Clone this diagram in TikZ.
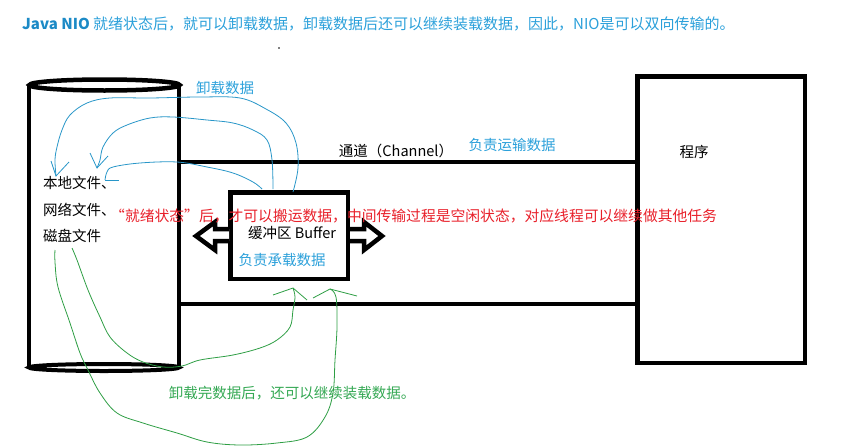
\documentclass[tikz,border=0pt]{standalone}
\usepackage{fontspec}
\setmainfont{Noto Sans CJK SC}
\usetikzlibrary{positioning}

\definecolor{niotitle}{RGB}{28,138,198}
\definecolor{nioblue}{RGB}{43,160,218}
\definecolor{penblue}{RGB}{40,150,200}
\definecolor{niored}{RGB}{232,32,42}
\definecolor{niogreen}{RGB}{52,168,83}
\definecolor{pengreen}{RGB}{46,158,68}

\tikzset{
  heavy/.style={line width=4.5pt},
  bluepen/.style={penblue, line width=0.8pt},
  greenpen/.style={pengreen, line width=0.8pt},
  txt/.style={inner sep=0pt, font=\fontsize{14.5}{17}\selectfont},
}

\begin{document}
\begin{tikzpicture}[x=1pt,y=-1pt]
\useasboundingbox (0,0) rectangle (842,447);

%% heading
\node[txt, anchor=west, nioblue, font=\fontsize{15}{18}\selectfont] (title) at (22,24)
  {{\color{niotitle}\bfseries Java NIO} 就绪状态后，就可以卸载数据，卸载数据后还可以继续装载数据，因此，NIO是可以双向传输的。};
\fill (279,48) circle[radius=0.8pt];

%% store (cylinder)
\draw[heavy] (29,85) -- (29,367);
\draw[heavy] (179,85) -- (179,367);
\draw[heavy] (104.5,85) ellipse (75 and 5.5);
\draw[line width=4pt] (104,367.5) ellipse (75 and 3.5);

%% store labels
\node[txt, anchor=west] (local) at (43,183) {本地文件、};
\node[txt, anchor=west] (net) at ([yshift=-27pt]local.west) {网络文件、};
\node[txt, anchor=west] (disk) at ([yshift=-26pt]net.west) {磁盘文件};

%% program
\node[heavy, draw, minimum width=167.5pt, minimum height=286.5pt] (prog) at (721,219.5) {};
\node[txt] (progname) at (694,152) {程序};

%% channel
\coordinate (chTop) at (181,162);
\coordinate (chBot) at (181,304);
\draw[heavy] (chTop) -- (chTop -| prog.west);
\draw[heavy] (chBot) -- (chBot -| prog.west);
\node[txt] (chname) at (396,151) {通道（Channel）};
\node[txt, nioblue] (chjob) at (512,145) {负责运输数据};

%% buffer
\node[heavy, draw, fill=white, minimum width=117.5pt, minimum height=86.5pt] (buf) at (289,235.5) {};
\node[txt] (bufname) at (292,233) {缓冲区 Buffer};
\node[txt, nioblue] (bufjob) at (282,260) {负责承载数据};

%% block arrows
\draw[heavy, line join=miter, fill=white] (229,229) -- (215,229) -- (215,222) -- (196,236) -- (215,250) -- (215,241) -- (229,241);
\draw[heavy, line join=miter, fill=white] (350,229) -- (364,229) -- (364,222) -- (382,236) -- (364,250) -- (364,241) -- (350,241);

%% note
\node[txt, anchor=west, niored, font=\fontsize{14.8}{17}\selectfont] (note) at (110,216)
  {“就绪状态”后，才可以搬运数据，中间传输过程是空闲状态，对应线程可以继续做其他任务};

%% unloading (blue)
\node[txt, nioblue] (unload) at (225,88) {卸载数据};
\coordinate (upA) at (293,192);
\coordinate (upB) at (273,189);
\coordinate (upC) at (262,189);
\coordinate (tipA) at (56,176);
\coordinate (tipB) at (97,168);
\coordinate (tipC) at (105,180);
\draw[bluepen] plot[smooth, tension=0.6] coordinates {(upA) (298,168) (296,143) (286,123) (266,109) (240,98) (200,97) (150,98) (110,98) (87,103) (70,115) (62,130) (57,147) (55,160) (tipA)};
\draw[bluepen] (51,161) -- (tipA) -- (69,162);
\draw[bluepen] plot[smooth, tension=0.6] coordinates {(upB) (272,160) (267,140) (253,130) (233,123) (207,120) (173,117) (150,118) (127,125) (113,133) (103,147) (100,160) (tipB)};
\draw[bluepen] (90,153) -- (tipB) -- (108,156);
\draw[bluepen] plot[smooth, tension=0.6] coordinates {(upC) (253,182) (233,173) (207,167) (177,162) (140,163) (113,167) (107,172) (tipC)};
\draw[bluepen] (tipC) -- (119,180);

%% reloading (green)
\node[txt, niogreen] (reload) at (292,393) {卸载完数据后，还可以继续装载数据。};
\coordinate (fromA) at (55,250);
\coordinate (fromB) at (72,248);
\coordinate (backA) at (330,289);
\coordinate (backB) at (293,288);
\draw[greenpen] plot[smooth, tension=0.6] coordinates {(fromA) (55,262) (58,287) (70,323) (80,353) (88,370) (100,393) (117,413) (143,423) (177,433) (207,442) (240,445) (277,443) (307,437) (325,417) (333,393) (335,360) (337,327) (336,297) (backA)};
\draw[greenpen] (313,298) -- (backA) -- (357,296);
\draw[greenpen] plot[smooth, tension=0.6] coordinates {(fromB) (77,260) (88,290) (100,317) (110,337) (127,353) (143,362) (163,367) (182,366) (200,360) (233,355) (260,348) (277,340) (290,327) (293,310) (295,297) (backB)};
\draw[greenpen] (273,295) -- (backB) -- (307,300);

\end{tikzpicture}
\end{document}
